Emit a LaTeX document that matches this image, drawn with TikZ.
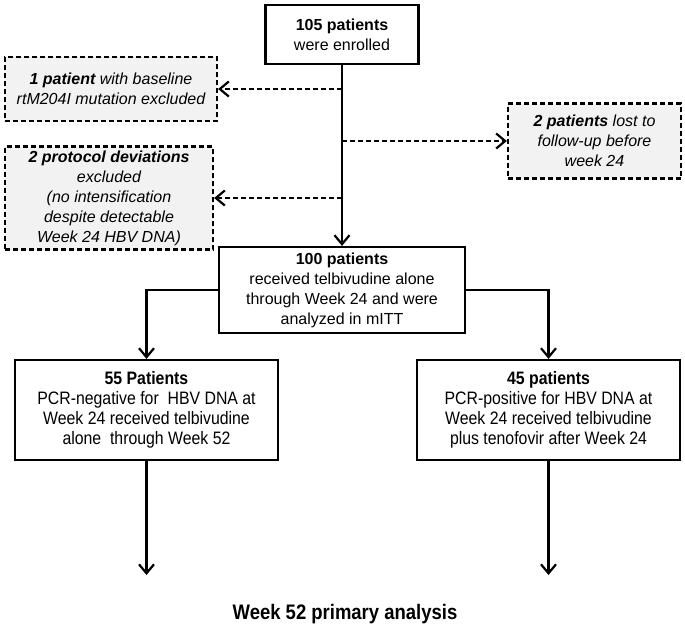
\documentclass[tikz,border=0pt]{standalone}
\usepackage{fontspec}
\setmainfont{Liberation Sans}
\newfontfamily\narrowfont[FakeStretch=0.88]{Liberation Sans}
\usepackage{xcolor}
\usepackage{tikz}
\usetikzlibrary{arrows.meta}
\definecolor{boxgray}{HTML}{F2F2F2}
\tikzset{
box/.style={
  draw,
  line width=2.2pt,
  rectangle,
  align=center,
  inner sep=0pt,
  font=\fontsize{16}{20}\selectfont
},
narrowbox/.style={
  box,
  font=\narrowfont\fontsize{18}{20}\selectfont
},
dashbox/.style={
  box,
  fill=boxgray,
  dash pattern=on 5pt off 3pt,
  font=\fontsize{16}{20}\selectfont\itshape
},
flow/.style={line width=2.2pt,-{Straight Barb[length=9pt,width=15pt,line width=2.2pt]}},
dashflow/.style={flow,dash pattern=on 5pt off 3pt},
}

\begin{document}
\begin{tikzpicture}[x=1pt,y=-1pt]
\useasboundingbox (0,0) rectangle (685,630);
% the boxes
\node (enrol) [box,minimum width=153pt,minimum height=59pt] at (342,34.5)
  {\textbf{105 patients}\\were enrolled};
\node (excl1) [dashbox,minimum width=212pt,minimum height=64pt] at (111,89)
  {\textbf{1 patient} with baseline\\rtM204I mutation excluded};
\node (lost) [dashbox,minimum width=173pt,minimum height=75pt] at (594.5,141)
  {\textbf{2 patients} lost to\\follow-up before\\week 24};
\node (excl2) [dashbox,minimum width=208pt,minimum height=103pt] at (109,198)
  {\textbf{2 protocol deviations}\\excluded\\(no intensification\\despite detectable\\Week 24 HBV DNA)};
\node (mitt) [box,minimum width=246pt,minimum height=86pt] at (342,290)
  {\textbf{100 patients}\\received telbivudine alone\\through Week 24 and were\\analyzed in mITT};
\node (neg) [narrowbox,minimum width=263pt,minimum height=100pt] at (146.5,410)
  {\textbf{55 Patients}\\PCR-negative for\ \ HBV DNA at\\Week 24 received telbivudine\\alone\ \ through Week 52};
\node (pos) [narrowbox,minimum width=263pt,minimum height=100pt] at (548.5,410)
  {\textbf{45 patients}\\PCR-positive for HBV DNA at\\Week 24 received telbivudine\\plus tenofovir after Week 24};
\node (final) [font=\narrowfont\fontsize{21}{24}\selectfont\bfseries] at (345,614)
  {Week 52 primary analysis};
\coordinate (endneg) at (146.5,575);
\coordinate (endpos) at (548.5,575);
% the arrows
\draw[flow] (enrol.south) -- (mitt.north);
\draw[dashflow] (excl1.east -| enrol.south) -- (excl1.east);
\draw[dashflow] (lost.west -| enrol.south) -- (lost.west);
\draw[dashflow] (excl2.east -| enrol.south) -- (excl2.east);
\draw[flow] (mitt.west) -| (neg.north);
\draw[flow] (mitt.east) -| (pos.north);
\foreach \b in {neg,pos}
{
  \draw[flow] (\b.south) -- (end\b);
}
\end{tikzpicture}
\end{document}
